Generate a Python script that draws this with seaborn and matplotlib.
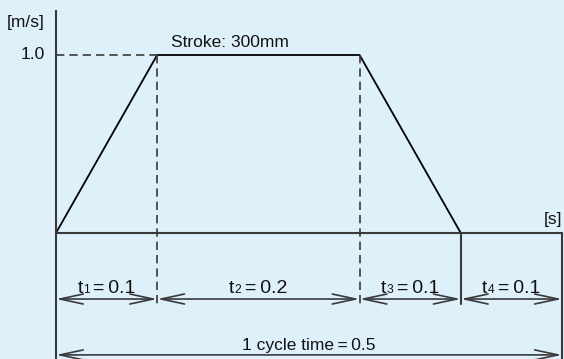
import matplotlib
matplotlib.use("Agg")
import matplotlib.pyplot as plt
import seaborn as sns
import pandas as pd

# Velocity profile of one stroke: accelerate, cruise, decelerate, dwell
time_points = [0.0, 0.1, 0.3, 0.4]
velocity = [0.0, 1.0, 1.0, 0.0]
phase_bounds = [0.0, 0.1, 0.3, 0.4, 0.5]
phase_names = ["1", "2", "3", "4"]
phase_times = ["0.1", "0.2", "0.1", "0.1"]
cycle_label = "1 cycle time\u2009=\u20090.5"
stroke_label = "Stroke: 300mm"
v_max_label = "1.0"

BG = "#def0fa"
AXC = "#3a3a3a"
TXT = "#111111"

sns.set_theme(style="white")
plt.rcParams["font.family"] = ["Liberation Sans", "DejaVu Sans"]

fig = plt.figure(figsize=(5.64, 3.59), dpi=100, facecolor=BG)
ax = fig.add_axes([0, 0, 1, 1])
ax.set_facecolor(BG)
ax.set_xlim(-0.0553, 0.502)
ax.set_ylim(-0.708, 1.309)
ax.axis("off")

df = pd.DataFrame({"t": time_points, "v": velocity})
sns.lineplot(data=df, x="t", y="v", ax=ax, color="black", lw=1.3,
             sort=False, estimator=None, legend=False)

# axes
ax.plot([0, 0], [-0.708, 1.253], color=AXC, lw=1.5, solid_capstyle="butt")
ax.plot([0, phase_bounds[-1]], [0, 0], color=AXC, lw=1.5)
ax.plot([phase_bounds[-1]] * 2, [0, -0.708], color=AXC, lw=1.5)
ax.plot([phase_bounds[3]] * 2, [0, -0.40], color=AXC, lw=1.5)

# dashed guides
dash = dict(color=AXC, lw=1.2, ls=(0, (5, 3)))
ax.plot([0, phase_bounds[1]], [velocity[1]] * 2, **dash)
ax.plot([phase_bounds[1]] * 2, [velocity[1], -0.40], **dash)
ax.plot([phase_bounds[2]] * 2, [velocity[2], -0.40], **dash)

# labels
fs = 12.5
ax.text(-0.0109, 1.185, "[m/s]", ha="right", va="center", fontsize=fs, color=TXT)
ax.text(-0.0109, 1.0, v_max_label, ha="right", va="center", fontsize=fs, color=TXT)
ax.text(0.5, 0.034, "[s]", ha="right", va="bottom", fontsize=fs, color=TXT)
ax.text(0.1136, 1.045, stroke_label, ha="left", va="baseline", fontsize=fs, color=TXT)

arrow = dict(arrowstyle="<->,head_length=1.4,head_width=0.3", color=AXC, lw=1.2,
             shrinkA=0, shrinkB=0)

renderer = fig.canvas.get_renderer()


def centered_run(xc, y, pieces):
    """Lay out text pieces of mixed size on one baseline, centred on xc."""
    texts = [ax.text(0, y, s, fontsize=size, color=TXT, ha="left", va="baseline")
             for s, size in pieces]
    widths = [t.get_window_extent(renderer).width for t in texts]
    x_disp = ax.transData.transform((xc, y))[0] - sum(widths) / 2
    for t, w in zip(texts, widths):
        x_data = ax.transData.inverted().transform((x_disp, 0))[0]
        t.set_x(x_data)
        x_disp += w


y_dim = -0.371
tfs = 14
for i in range(4):
    x0, x1 = phase_bounds[i], phase_bounds[i + 1]
    ax.annotate("", xy=(x1, y_dim), xytext=(x0, y_dim), arrowprops=arrow)
    centered_run((x0 + x1) / 2, y_dim + 0.034,
                 [("t", tfs), (phase_names[i], tfs * 0.62),
                  ("\u2009=\u2009" + phase_times[i], tfs)])

y_cyc = -0.685
ax.annotate("", xy=(phase_bounds[-1], y_cyc), xytext=(0, y_cyc), arrowprops=arrow)
ax.text(0.25, y_cyc + 0.028, cycle_label, ha="center", va="baseline",
        fontsize=fs, color=TXT)

fig.savefig("out.png", dpi=100, facecolor=BG)
